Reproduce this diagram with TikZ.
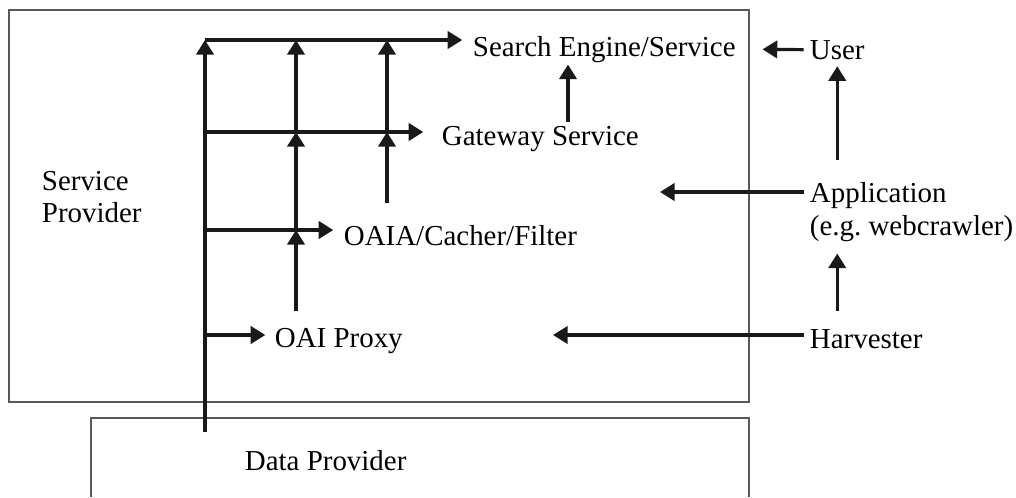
\documentclass[tikz,border=0pt]{standalone}
\usepackage{fontspec}
\setmainfont{Liberation Serif}
\frenchspacing
\usetikzlibrary{positioning}
\usetikzlibrary{calc}
\usetikzlibrary{arrows.meta}

\begin{document}
\begin{tikzpicture}[x=0.75pt, y=-0.75pt, >={Triangle[length=11pt,width=13pt]}, line width=2.4pt, draw=black!90, font=\fontsize{21.7}{24.5}\selectfont]
    \tikzstyle{txt}=[anchor=base west, inner sep=4pt]
    \tikzstyle{frame}=[-, draw=black!65, line width=1.1pt]
    \tikzstyle{flow}=[->]

    \useasboundingbox (0,0) rectangle (1016,497);

    % the two providers
    \draw[frame] (9,10) rectangle (749,402);
    \draw[frame] (91,497) |- (749,418) -- (749,497);
    \node[txt] (sp) at (35,190) {Service};
    \node[txt] (sp2) at (35,222) {Provider};
    \node[txt] (dp) at (238,470) {Data Provider};

    % services
    \node[txt] (se) at (466,56) {Search Engine/Service};
    \node[txt] (gw) at (435,145) {Gateway Service};
    \node[txt] (oaia) at (337,245) {OAIA/Cacher/Filter};
    \node[txt] (proxy) at (268,347) {OAI Proxy};

    % outside
    \node[txt] (user) at (803,59) {User};
    \node[txt] (app) at (803,202) {Application};
    \node[txt] (appeg) at (803,235) {(e.g. webcrawler)};
    \node[txt] (harv) at (803,348) {Harvester};

    % junctions of the bus
    \coordinate (dp0) at (205,432);
    \coordinate (t1) at (205,40);
    \coordinate (t2) at (296,40);
    \coordinate (t3) at (387,40);
    \coordinate (g1) at (205,132);
    \coordinate (g2) at (296,132);
    \coordinate (g3) at (387,132);
    \coordinate (o1) at (205,230);
    \coordinate (o2) at (296,230);
    \coordinate (p1) at (205,335);
    \coordinate (gsx) at (568,0);
    \coordinate (apptip) at (660,192);
    \coordinate (harvtip) at (553,335);

    \draw[flow] (dp0) -- (t1);
    \draw[flow, shorten >=2.8pt] (t1) -- (se.west |- t1);
    \draw[flow, shorten >=8.8pt] (g1) -- (gw.west |- g1);
    \draw[flow, shorten >=2.8pt] (o1) -- (oaia.west |- o1);
    \draw[flow, shorten >=2pt] (p1) -- (proxy.west |- p1);

    \draw[flow, shorten <=7.5pt] (proxy.north -| o2) -- (o2);
    \draw[flow] (o2) -- (g2);
    \draw[flow] (g2) -- (t2);
    \draw[flow, shorten <=11pt] (oaia.north -| g3) -- (g3);
    \draw[flow] (g3) -- (t3);
    \draw[flow, shorten <=-2.3pt, shorten >=-3.5pt] (gw.north -| gsx) -- (se.south -| gsx);

    \draw[flow, shorten <=-0.5pt, shorten >=15pt] (user.west) -- (se.east);
    \draw[flow, shorten <=11pt] (app.north -| user) -- (user.south);
    \draw[flow, shorten <=8.6pt, shorten >=4pt] (harv.north -| user) -- (appeg.south -| user);
    \draw[flow, shorten <=-0.5pt] (app.west |- apptip) -- (apptip);
    \draw[flow, shorten <=-0.5pt] (harv.west |- harvtip) -- (harvtip);
\end{tikzpicture}
\end{document}
